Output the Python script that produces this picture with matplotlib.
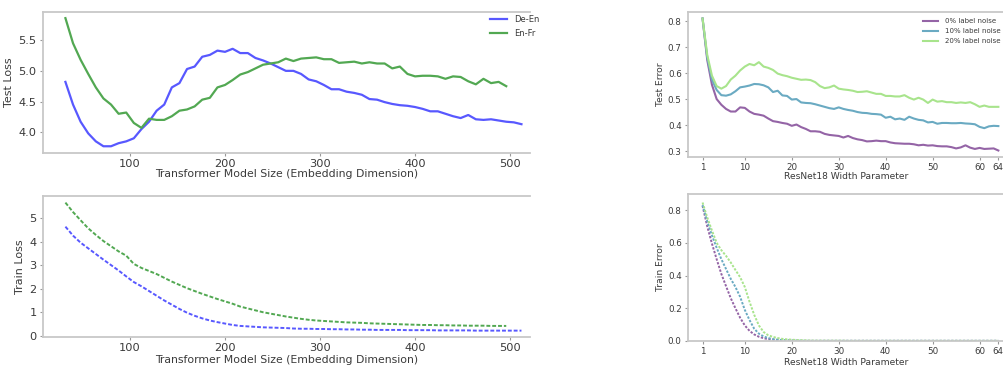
import matplotlib
matplotlib.use("Agg")
import matplotlib.pyplot as plt

# ---------------- data: Transformer (left) ----------------
emb_de = [32, 40, 48, 56, 64, 72, 80, 88, 96, 104, 112, 120, 128, 136, 144, 152, 160, 168, 176, 184,
          192, 200, 208, 216, 224, 232, 240, 248, 256, 264, 272, 280, 288, 296, 304, 312, 320, 328, 336, 344,
          352, 360, 368, 376, 384, 392, 400, 408, 416, 424, 432, 440, 448, 456, 464, 472, 480, 488, 496, 504, 512]
emb_fr = emb_de[:-2]

test_de = [4.82, 4.45, 4.17, 3.98, 3.85, 3.77, 3.77, 3.82, 3.85, 3.90, 4.05, 4.17, 4.35, 4.45, 4.73, 4.80,
           5.03, 5.07, 5.23, 5.26, 5.33, 5.31, 5.36, 5.29, 5.29, 5.21, 5.17, 5.12, 5.06, 5.00, 5.00, 4.95,
           4.86, 4.83, 4.77, 4.70, 4.70, 4.66, 4.64, 4.61, 4.54, 4.53, 4.49, 4.46, 4.44, 4.43, 4.41, 4.38,
           4.34, 4.34, 4.30, 4.26, 4.23, 4.28, 4.21, 4.20, 4.21, 4.19, 4.17, 4.16, 4.13]
test_fr = [5.86, 5.45, 5.18, 4.95, 4.73, 4.55, 4.45, 4.30, 4.32, 4.15, 4.07, 4.22, 4.20, 4.20, 4.26, 4.35,
           4.37, 4.42, 4.53, 4.56, 4.73, 4.77, 4.85, 4.94, 4.98, 5.04, 5.10, 5.12, 5.14, 5.20, 5.16, 5.20,
           5.21, 5.22, 5.19, 5.19, 5.13, 5.14, 5.15, 5.12, 5.14, 5.12, 5.12, 5.04, 5.07, 4.95, 4.91, 4.92,
           4.92, 4.91, 4.87, 4.91, 4.90, 4.83, 4.78, 4.87, 4.80, 4.82, 4.75]

train_de = [4.63, 4.25, 3.95, 3.71, 3.47, 3.23, 3.00, 2.77, 2.52, 2.28, 2.10, 1.90, 1.70, 1.50, 1.32, 1.14,
            0.98, 0.85, 0.74, 0.65, 0.58, 0.52, 0.46, 0.42, 0.40, 0.38, 0.36, 0.35, 0.34, 0.33, 0.31, 0.30,
            0.30, 0.29, 0.29, 0.28, 0.28, 0.27, 0.27, 0.26, 0.26, 0.25, 0.25, 0.25, 0.25, 0.24, 0.24, 0.24,
            0.24, 0.23, 0.23, 0.23, 0.23, 0.23, 0.22, 0.22, 0.22, 0.22, 0.22, 0.22, 0.22]
train_fr = [5.65, 5.25, 4.90, 4.56, 4.28, 4.02, 3.80, 3.58, 3.40, 3.05, 2.88, 2.75, 2.62, 2.46, 2.30, 2.16,
            2.02, 1.90, 1.78, 1.67, 1.56, 1.46, 1.36, 1.24, 1.16, 1.08, 1.00, 0.94, 0.88, 0.82, 0.77, 0.72,
            0.68, 0.65, 0.63, 0.61, 0.59, 0.57, 0.56, 0.55, 0.53, 0.52, 0.51, 0.50, 0.49, 0.48, 0.47, 0.46,
            0.46, 0.45, 0.45, 0.44, 0.44, 0.43, 0.43, 0.43, 0.42, 0.42, 0.42]

# ---------------- data: ResNet18 (right) ----------------
width = [1, 2, 3, 4, 5, 6, 7, 8, 9, 10, 11, 12, 13, 14, 15, 16, 17, 18, 19, 20, 21, 22, 23, 24, 25, 26, 27, 28,
         29, 30, 31, 32, 33, 34, 35, 36, 37, 38, 39, 40, 41, 42, 43, 44, 45, 46, 47, 48, 49, 50, 51, 52, 53, 54,
         55, 56, 57, 58, 59, 60, 61, 62, 63, 64]

test_n0 = [0.81, 0.65, 0.555, 0.50, 0.478, 0.462, 0.452, 0.452, 0.468, 0.466, 0.452, 0.443, 0.440, 0.436,
           0.425, 0.415, 0.412, 0.408, 0.405, 0.397, 0.402, 0.392, 0.385, 0.376, 0.376, 0.374, 0.366, 0.362,
           0.360, 0.358, 0.352, 0.358, 0.350, 0.345, 0.342, 0.337, 0.338, 0.340, 0.338, 0.338, 0.333, 0.330,
           0.329, 0.328, 0.328, 0.326, 0.322, 0.324, 0.321, 0.322, 0.319, 0.318, 0.318, 0.315, 0.310, 0.314,
           0.322, 0.313, 0.308, 0.312, 0.308, 0.309, 0.310, 0.302]
test_n10 = [0.81, 0.66, 0.575, 0.535, 0.515, 0.513, 0.518, 0.530, 0.545, 0.548, 0.552, 0.558, 0.557, 0.553,
            0.545, 0.527, 0.532, 0.514, 0.512, 0.498, 0.500, 0.487, 0.485, 0.484, 0.480, 0.475, 0.470, 0.465,
            0.462, 0.468, 0.462, 0.458, 0.455, 0.450, 0.447, 0.446, 0.443, 0.442, 0.440, 0.428, 0.432, 0.422,
            0.425, 0.420, 0.432, 0.425, 0.420, 0.418, 0.410, 0.412, 0.405, 0.408, 0.408, 0.407, 0.407, 0.408,
            0.406, 0.405, 0.403, 0.393, 0.388, 0.395, 0.397, 0.396]
test_n20 = [0.81, 0.67, 0.59, 0.55, 0.540, 0.550, 0.575, 0.590, 0.610, 0.625, 0.635, 0.630, 0.642, 0.625,
            0.620, 0.612, 0.598, 0.592, 0.588, 0.582, 0.578, 0.574, 0.575, 0.573, 0.565, 0.550, 0.542, 0.545,
            0.552, 0.540, 0.537, 0.535, 0.532, 0.527, 0.528, 0.530, 0.525, 0.520, 0.520, 0.512, 0.512, 0.510,
            0.510, 0.515, 0.505, 0.498, 0.505, 0.498, 0.485, 0.498, 0.490, 0.492, 0.488, 0.488, 0.485, 0.487,
            0.485, 0.488, 0.480, 0.470, 0.475, 0.470, 0.470, 0.470]

train_n0 = [0.826, 0.70, 0.595, 0.50, 0.41, 0.335, 0.262, 0.20, 0.142, 0.095, 0.062, 0.040, 0.026, 0.017,
            0.011, 0.008, 0.006, 0.004, 0.003, 0.002, 0.002, 0.001, 0.001, 0.001, 0.001, 0.001, 0.001, 0.001,
            0.001, 0.001, 0.001, 0.001, 0.001, 0.001, 0.001, 0.001, 0.001, 0.001, 0.001, 0.001, 0.001, 0.001,
            0.001, 0.001, 0.001, 0.001, 0.001, 0.001, 0.001, 0.001, 0.001, 0.001, 0.001, 0.001, 0.001, 0.001,
            0.001, 0.001, 0.001, 0.001, 0.001, 0.001, 0.001, 0.001]
train_n10 = [0.83, 0.73, 0.645, 0.57, 0.50, 0.44, 0.38, 0.33, 0.27, 0.19, 0.128, 0.075, 0.045, 0.028,
             0.018, 0.012, 0.008, 0.006, 0.004, 0.003, 0.002, 0.002, 0.001, 0.001, 0.001, 0.001, 0.001, 0.001,
             0.001, 0.001, 0.001, 0.001, 0.001, 0.001, 0.001, 0.001, 0.001, 0.001, 0.001, 0.001, 0.001, 0.001,
             0.001, 0.001, 0.001, 0.001, 0.001, 0.001, 0.001, 0.001, 0.001, 0.001, 0.001, 0.001, 0.001, 0.001,
             0.001, 0.001, 0.001, 0.001, 0.001, 0.001, 0.001, 0.001]
train_n20 = [0.846, 0.755, 0.675, 0.60, 0.555, 0.52, 0.48, 0.434, 0.39, 0.33, 0.24, 0.16, 0.095, 0.055,
             0.035, 0.025, 0.018, 0.013, 0.010, 0.008, 0.006, 0.005, 0.004, 0.003, 0.002, 0.002, 0.002, 0.002,
             0.002, 0.002, 0.002, 0.001, 0.001, 0.001, 0.001, 0.001, 0.001, 0.001, 0.001, 0.001, 0.001, 0.001,
             0.001, 0.001, 0.001, 0.001, 0.001, 0.001, 0.001, 0.001, 0.001, 0.001, 0.001, 0.001, 0.001, 0.001,
             0.001, 0.001, 0.001, 0.001, 0.001, 0.001, 0.001, 0.001]

left_xticks = [100, 200, 300, 400, 500]
test_yticks = [4.0, 4.5, 5.0, 5.5]
train_yticks = [0, 1, 2, 3, 4, 5]
right_xticks = [1, 10, 20, 30, 40, 50, 60, 64]
rtest_yticks = [0.3, 0.4, 0.5, 0.6, 0.7, 0.8]
rtrain_yticks = [0.0, 0.2, 0.4, 0.6, 0.8]

# ---------------- styling ----------------
W, H = 1004, 367
fig = plt.figure(figsize=(W / 100, H / 100), dpi=100)
TXT = "#3a3a3a"
SPINE = "#c8c8c8"
C_DE = "#5858ff"
C_FR = "#52a852"
C_N0 = "#9464a6"
C_N10 = "#6aaac2"
C_N20 = "#a8e48c"


def box(l, t, r, b):
    return [l / W, 1 - b / H, (r - l) / W, (b - t) / H]


def style(ax, fs):
    for s in ax.spines.values():
        s.set_color(SPINE)
        s.set_linewidth(1.3)
    ax.spines["right"].set_visible(False)
    ax.tick_params(length=2.5, width=0.8, color="#999999", labelcolor=TXT, labelsize=fs, pad=2)


# top-left
L_AX = (43, 12, 530, 153)
ax1 = fig.add_axes(box(*L_AX))
ax1.plot(emb_de, test_de, color=C_DE, lw=1.6, label="De-En")
ax1.plot(emb_fr, test_fr, color=C_FR, lw=1.6, label="En-Fr")
ax1.set_xlim(8.4, 521)
ax1.set_ylim(3.66, 5.96)
ax1.set_xticks(left_xticks)
ax1.set_yticks(test_yticks)
ax1.set_yticklabels([f"{v:.1f}" for v in test_yticks])
style(ax1, 8.2)
ax1.set_xlabel("Transformer Model Size (Embedding Dimension)", fontsize=7.8, color=TXT, labelpad=0)
ax1.set_ylabel("Test Loss", fontsize=8, color=TXT, labelpad=3)
ax1.legend(loc="upper left", bbox_to_anchor=((490 - 43) / 487, (153 - 15) / 141), frameon=False,
           fontsize=6, handlelength=2.0, borderaxespad=0.0, borderpad=0.0,
           labelcolor=TXT, handletextpad=0.9, labelspacing=0.6)

# bottom-left
ax2 = fig.add_axes(box(43, 196, 530, 337))
ax2.plot(emb_de, train_de, color=C_DE, lw=1.4, ls=(0, (2.0, 1.0)))
ax2.plot(emb_fr, train_fr, color=C_FR, lw=1.4, ls=(0, (2.0, 1.0)))
ax2.set_xlim(8.4, 521)
ax2.set_ylim(-0.05, 5.93)
ax2.set_xticks(left_xticks)
ax2.set_yticks(train_yticks)
style(ax2, 8.2)
ax2.set_xlabel("Transformer Model Size (Embedding Dimension)", fontsize=7.8, color=TXT, labelpad=1)
ax2.set_ylabel("Train Loss", fontsize=8, color=TXT, labelpad=3)

# top-right
ax3 = fig.add_axes(box(688, 12, 1004, 157))
ax3.plot(width, test_n0, color=C_N0, lw=1.5, label="0% label noise")
ax3.plot(width, test_n10, color=C_N10, lw=1.5, label="10% label noise")
ax3.plot(width, test_n20, color=C_N20, lw=1.5, label="20% label noise")
ax3.set_xlim(-2.1, 65.2)
ax3.set_ylim(0.277, 0.835)
ax3.set_xticks(right_xticks)
ax3.set_yticks(rtest_yticks)
ax3.set_yticklabels([f"{v:.1f}" for v in rtest_yticks])
style(ax3, 6.3)
ax3.set_xlabel("ResNet18 Width Parameter", fontsize=6.6, color=TXT, labelpad=0)
ax3.set_ylabel("Test Error", fontsize=6.6, color=TXT, labelpad=2)
ax3.legend(loc="upper left", bbox_to_anchor=((923 - 688) / 316, (157 - 18) / 145), frameon=False,
           fontsize=5, handlelength=2.2, borderaxespad=0.0, borderpad=0.0,
           labelcolor=TXT, handletextpad=0.9, labelspacing=0.6)

# bottom-right
ax4 = fig.add_axes(box(688, 194, 1004, 341))
ax4.plot(width, train_n0, color=C_N0, lw=1.4, ls=(0, (1.2, 0.8)))
ax4.plot(width, train_n10, color=C_N10, lw=1.4, ls=(0, (1.2, 0.8)))
ax4.plot(width, train_n20, color=C_N20, lw=1.4, ls=(0, (1.2, 0.8)))
ax4.set_xlim(-2.1, 65.2)
ax4.set_ylim(0.0, 0.898)
ax4.set_xticks(right_xticks)
ax4.set_yticks(rtrain_yticks)
ax4.set_yticklabels([f"{v:.1f}" for v in rtrain_yticks])
style(ax4, 6.3)
ax4.set_xlabel("ResNet18 Width Parameter", fontsize=6.6, color=TXT, labelpad=1)
ax4.set_ylabel("Train Error", fontsize=6.6, color=TXT, labelpad=2)

fig.savefig("out.png", dpi=100)
